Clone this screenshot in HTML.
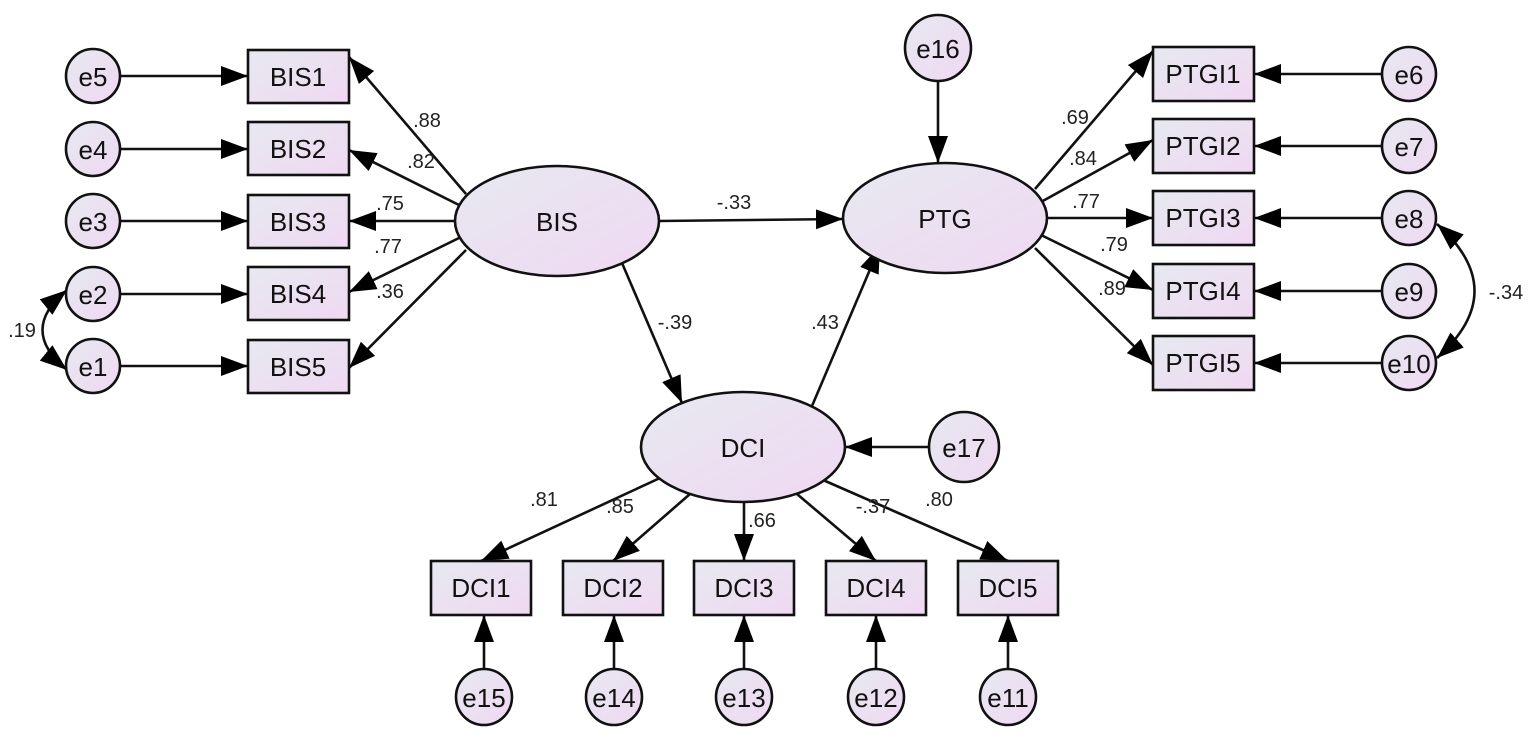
<!DOCTYPE html>
<html><head><meta charset="utf-8"><style>
html,body{margin:0;padding:0;background:#fff;}
svg{display:block;font-family:"Liberation Sans",Arial,sans-serif;}
.n{font-size:26px;fill:#111;text-anchor:middle;dominant-baseline:central;}
.l{font-size:20px;fill:#222;text-anchor:middle;}
.s{stroke:#111;stroke-width:2.6;fill:url(#g);}
.e{stroke:#111;stroke-width:2.6;fill:none;}
</style></head><body>
<svg width="1535" height="738" viewBox="0 0 1535 738">
<defs>
<linearGradient id="g" x1="0" y1="0" x2="1" y2="1">
<stop offset="0" stop-color="#e6e9f0"/><stop offset="1" stop-color="#f0d8f2"/></linearGradient>
<marker id="a" markerUnits="userSpaceOnUse" markerWidth="30" markerHeight="22" refX="27" refY="10" orient="auto-start-reverse" viewBox="0 0 30 22">
<path d="M0,0 L27,10 L0,20 z" fill="#000"/></marker>
</defs>
<g class="e" marker-end="url(#a)">
<line x1="120" y1="76" x2="248" y2="76"/>
<line x1="120" y1="149" x2="248" y2="149"/>
<line x1="120" y1="221" x2="248" y2="221"/>
<line x1="120" y1="294" x2="248" y2="294"/>
<line x1="120" y1="366" x2="248" y2="366"/>
<line x1="466" y1="194" x2="349" y2="57"/>
<line x1="459" y1="205" x2="349" y2="150"/>
<line x1="455" y1="221" x2="349" y2="221"/>
<line x1="459" y1="238" x2="349" y2="292"/>
<line x1="466" y1="250" x2="349" y2="368"/>
<line x1="659" y1="221" x2="843" y2="219"/>
<line x1="622" y1="263" x2="682" y2="403"/>
<line x1="812" y1="406" x2="880" y2="246"/>
<line x1="938" y1="81" x2="938" y2="163"/>
<line x1="1035" y1="189" x2="1153" y2="51"/>
<line x1="1041" y1="202" x2="1153" y2="140"/>
<line x1="1047" y1="218" x2="1153" y2="218"/>
<line x1="1041" y1="235" x2="1153" y2="290"/>
<line x1="1035" y1="248" x2="1153" y2="365"/>
<line x1="1382" y1="74" x2="1254" y2="74"/>
<line x1="1382" y1="146" x2="1254" y2="146"/>
<line x1="1382" y1="218" x2="1254" y2="218"/>
<line x1="1382" y1="291" x2="1254" y2="291"/>
<line x1="1382" y1="363" x2="1254" y2="363"/>
<line x1="929" y1="447" x2="845" y2="447"/>
<line x1="660" y1="478" x2="481" y2="561"/>
<line x1="690" y1="494" x2="613" y2="561"/>
<line x1="744" y1="502" x2="744" y2="561"/>
<line x1="797" y1="494" x2="876" y2="561"/>
<line x1="823" y1="480" x2="1008" y2="561"/>
<line x1="484" y1="669" x2="484" y2="615"/>
<line x1="614" y1="669" x2="614" y2="615"/>
<line x1="744" y1="669" x2="744" y2="615"/>
<line x1="876" y1="669" x2="876" y2="615"/>
<line x1="1008" y1="669" x2="1008" y2="615"/>
</g>
<path class="e" d="M1437,224 Q1512,291 1437,358" marker-start="url(#a)" marker-end="url(#a)"/>
<path class="e" d="M67,290 Q18,330 67,370" marker-start="url(#a)" marker-end="url(#a)"/>
<g class="s">
<circle cx="93" cy="76" r="27"/><circle cx="93" cy="149" r="27"/><circle cx="93" cy="221" r="27"/><circle cx="93" cy="294" r="27"/><circle cx="93" cy="366" r="27"/>
<rect x="248" y="50" width="101" height="53"/><rect x="248" y="122" width="101" height="53"/><rect x="248" y="195" width="101" height="53"/><rect x="248" y="267" width="101" height="53"/><rect x="248" y="340" width="101" height="53"/>
<ellipse cx="557" cy="221" rx="102" ry="55"/>
<ellipse cx="945" cy="218" rx="102" ry="55"/>
<ellipse cx="743" cy="447" rx="102" ry="55"/>
<circle cx="938" cy="48" r="33"/>
<circle cx="964" cy="447" r="35"/>
<rect x="1153" y="47" width="101" height="54"/><rect x="1153" y="119" width="101" height="54"/><rect x="1153" y="191" width="101" height="54"/><rect x="1153" y="264" width="101" height="54"/><rect x="1153" y="336" width="101" height="54"/>
<circle cx="1409" cy="74" r="27"/><circle cx="1409" cy="146" r="27"/><circle cx="1409" cy="218" r="27"/><circle cx="1409" cy="291" r="27"/><circle cx="1409" cy="363" r="27"/>
<rect x="431" y="561" width="100" height="54"/><rect x="563" y="561" width="100" height="54"/><rect x="694" y="561" width="100" height="54"/><rect x="826" y="561" width="100" height="54"/><rect x="958" y="561" width="100" height="54"/>
<circle cx="484" cy="697" r="28"/><circle cx="614" cy="697" r="28"/><circle cx="744" cy="697" r="28"/><circle cx="876" cy="697" r="28"/><circle cx="1008" cy="697" r="28"/>
</g>
<g class="n">
<text x="93" y="77">e5</text><text x="93" y="150">e4</text><text x="93" y="222">e3</text><text x="93" y="295">e2</text><text x="93" y="367">e1</text>
<text x="298" y="77">BIS1</text><text x="298" y="149">BIS2</text><text x="298" y="222">BIS3</text><text x="298" y="294">BIS4</text><text x="298" y="367">BIS5</text>
<text x="557" y="222">BIS</text><text x="945" y="219">PTG</text><text x="743" y="448">DCI</text>
<text x="938" y="49">e16</text><text x="964" y="448">e17</text>
<text x="1203" y="74">PTGI1</text><text x="1203" y="146">PTGI2</text><text x="1203" y="218">PTGI3</text><text x="1203" y="291">PTGI4</text><text x="1203" y="363">PTGI5</text>
<text x="1409" y="75">e6</text><text x="1409" y="147">e7</text><text x="1409" y="219">e8</text><text x="1409" y="292">e9</text><text x="1409" y="364">e10</text>
<text x="481" y="588">DCI1</text><text x="613" y="588">DCI2</text><text x="744" y="588">DCI3</text><text x="876" y="588">DCI4</text><text x="1008" y="588">DCI5</text>
<text x="484" y="698">e15</text><text x="614" y="698">e14</text><text x="744" y="698">e13</text><text x="876" y="698">e12</text><text x="1008" y="698">e11</text>
</g>
<g class="l">
<text x="427" y="127">.88</text><text x="421" y="168">.82</text><text x="390" y="210">.75</text><text x="388" y="253">.77</text><text x="390" y="298">.36</text>
<text x="22" y="337">.19</text>
<text x="734" y="209">-.33</text><text x="675" y="329">-.39</text><text x="825" y="329">.43</text>
<text x="1075" y="124">.69</text><text x="1083" y="165">.84</text><text x="1086" y="208">.77</text><text x="1114" y="251">.79</text><text x="1112" y="295">.89</text>
<text x="1506" y="299">-.34</text>
<text x="544" y="506">.81</text><text x="620" y="513">.85</text><text x="762" y="527">.66</text><text x="873" y="513">-.37</text><text x="939" y="506">.80</text>
</g>
</svg>
</body></html>
